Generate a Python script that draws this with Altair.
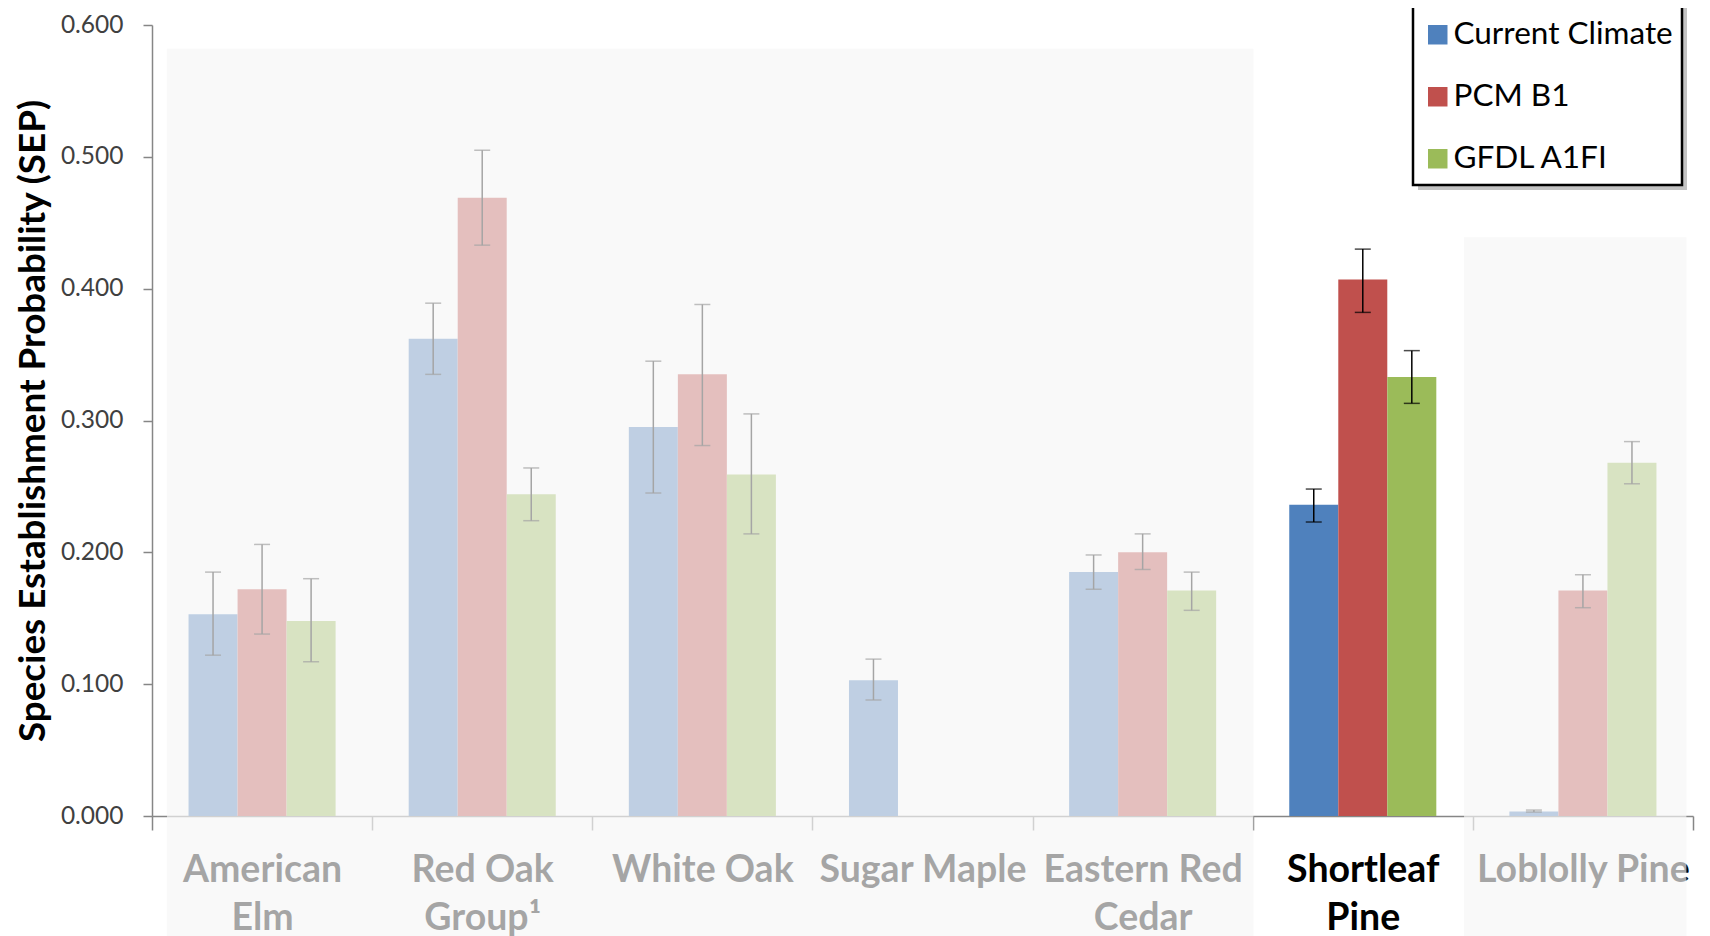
import json
import altair as alt
import pandas as pd

# ---------------- data ----------------
categories = ["American Elm", "Red Oak Group¹", "White Oak", "Sugar Maple",
              "Eastern Red Cedar", "Shortleaf Pine", "Loblolly Pine"]
tick_lines = [["American", "Elm"], ["Red Oak", "Group¹"], ["White Oak"], ["Sugar Maple"],
              ["Eastern Red", "Cedar"], ["Shortleaf", "Pine"], ["Loblolly Pine"]]
series = ["Current Climate", "PCM B1", "GFDL A1FI"]
colors = ["#4F81BD", "#C0504D", "#9BBB59"]

current = [0.153, 0.362, 0.295, 0.103, 0.185, 0.236, 0.0035]
current_lo = [0.122, 0.335, 0.245, 0.088, 0.172, 0.223, 0.003]
current_hi = [0.185, 0.389, 0.345, 0.119, 0.198, 0.248, 0.0045]

pcm = [0.172, 0.469, 0.335, 0.0, 0.200, 0.407, 0.171]
pcm_lo = [0.138, 0.433, 0.281, None, 0.187, 0.382, 0.158]
pcm_hi = [0.206, 0.505, 0.388, None, 0.214, 0.430, 0.183]

gfdl = [0.148, 0.244, 0.259, 0.0, 0.171, 0.333, 0.268]
gfdl_lo = [0.117, 0.224, 0.214, None, 0.156, 0.313, 0.252]
gfdl_hi = [0.180, 0.264, 0.305, None, 0.185, 0.353, 0.284]

# faded highlight panels (category units on x, SEP units on y)
panel_start = [0.068, 5.96]
panel_end = [5.003, 6.97]
panel_top = [0.582, 0.439]
panel_bottom = [-0.1, -0.1]

y_ticks = [0.0, 0.1, 0.2, 0.3, 0.4, 0.5, 0.6]

# ---------------- tables ----------------
rows = []
for s, vals, los, his in [(series[0], current, current_lo, current_hi),
                          (series[1], pcm, pcm_lo, pcm_hi),
                          (series[2], gfdl, gfdl_lo, gfdl_hi)]:
    for c, v, lo, hi in zip(categories, vals, los, his):
        rows.append({"category": c, "series": s, "value": v, "lo": lo, "hi": hi})
df = pd.DataFrame(rows)

panels_df = pd.DataFrame({"x0": panel_start, "x1": panel_end,
                          "top": panel_top, "bottom": panel_bottom})

# ---------------- label expression ----------------
expr = ""
for cat, lines in zip(categories, tick_lines):
    expr += f"datum.value == {json.dumps(cat, ensure_ascii=False)} ? {json.dumps(lines, ensure_ascii=False)} : "
expr += "datum.label"

FONT = "Lato"
AXIS_GRAY = "#868686"

x_axis = alt.Axis(title=None, labelAngle=0, labelExpr=expr,
                  labelFont=FONT, labelFontWeight="bold", labelFontSize=37.5,
                  labelColor="black", labelLineHeight=48, labelPadding=21,
                  labelLimit=400, labelOverlap=False, labelBaseline="top",
                  tickBand="extent", tickSize=14, tickColor=AXIS_GRAY,
                  tickWidth=1.5, domainColor=AXIS_GRAY, domainWidth=1.5)
y_axis = alt.Axis(title="Species Establishment Probability (SEP)",
                  values=y_ticks, format=".3f", grid=False,
                  labelFont=FONT, labelFontSize=24.5, labelColor="#404040",
                  labelPadding=20, tickSize=9, tickColor=AXIS_GRAY, tickWidth=1.5,
                  domainColor=AXIS_GRAY, domainWidth=1.5,
                  titleFont=FONT, titleFontSize=36.8, titleFontWeight="bold",
                  titleColor="black", titlePadding=8)

x_enc = alt.X("category:N", sort=categories,
              scale=alt.Scale(paddingInner=0, paddingOuter=0), axis=x_axis)
xo_enc = alt.XOffset("series:N", sort=series,
                     scale=alt.Scale(paddingOuter=0.745, paddingInner=0))
y_scale = alt.Scale(domain=[0, 0.6], nice=False, zero=False)

base = alt.Chart(df).encode(x=x_enc, xOffset=xo_enc)

bars = base.mark_bar(size=49).encode(
    y=alt.Y("value:Q", scale=y_scale, axis=y_axis),
    color=alt.Color("series:N", sort=series,
                    scale=alt.Scale(domain=series, range=colors),
                    legend=alt.Legend(title=None, orient="none", legendX=1262, legendY=-14,
                                      symbolType="square", symbolSize=380,
                                      symbolStrokeWidth=0, labelFont=FONT,
                                      labelFontSize=31.5, labelColor="black",
                                      labelLimit=400,
                                      labelOffset=0, rowPadding=29, padding=8)),
)

rules = base.mark_rule(color="black", strokeWidth=1.5).encode(
    y=alt.Y("lo:Q", scale=y_scale, axis=y_axis), y2="hi:Q")

cap_lo = base.mark_tick(color="black", size=16, thickness=1.5).encode(
    y=alt.Y("lo:Q", scale=y_scale, axis=y_axis))
cap_hi = base.mark_tick(color="black", size=16, thickness=1.5).encode(
    y=alt.Y("hi:Q", scale=y_scale, axis=y_axis))

main = alt.layer(bars, rules, cap_lo, cap_hi)

panels = alt.Chart(panels_df).mark_rect(color="#F6F6F6", opacity=0.67).encode(
    x=alt.X("x0:Q", scale=alt.Scale(domain=[0, 7], nice=False, zero=False), axis=None),
    x2="x1:Q",
    y=alt.Y("top:Q", scale=alt.Scale(domain=[0, 0.6], nice=False, zero=False), axis=None),
    y2="bottom:Q",
)

# legend frame: soft drop shadow + black border box
shadow = alt.Chart(alt.Data(values=[{}])).mark_rect(color="#7a7a7a", opacity=0.45).encode(
    x=alt.value(1266), x2=alt.value(1535), y=alt.value(-17), y2=alt.value(165))
frame = alt.Chart(alt.Data(values=[{}])).mark_rect(
    fill="white", stroke="black", strokeWidth=2.5).encode(
    x=alt.value(1261), x2=alt.value(1530), y=alt.value(-22), y2=alt.value(160))

chart = alt.layer(main, panels, shadow, frame).resolve_scale(
    x="independent", y="independent"
).properties(
    width=1541, height=791,
    autosize=alt.AutoSizeParams(type="none"),
    padding={"left": 144, "top": 17, "right": 8, "bottom": 120},
    background="white",
).configure_view(stroke=None)

chart.save("out.html", embed_options={"renderer": "svg", "actions": False})
